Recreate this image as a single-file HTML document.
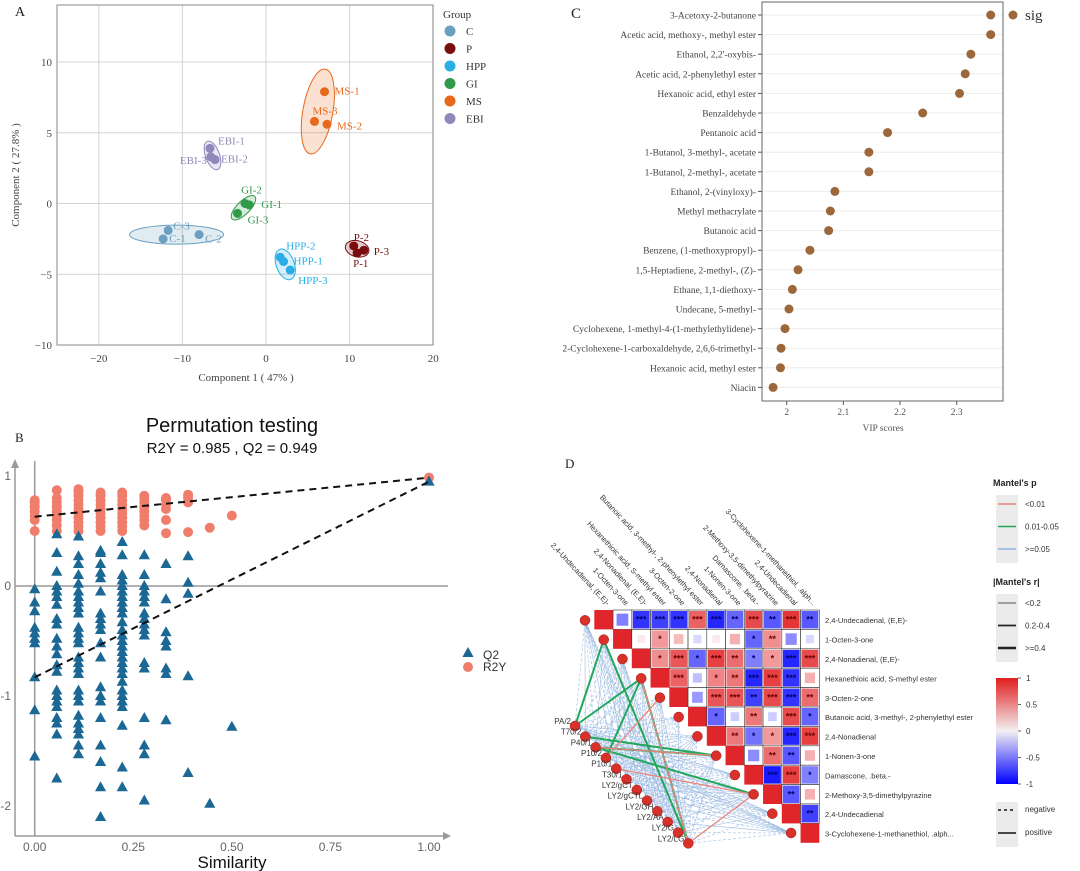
<!DOCTYPE html>
<html><head><meta charset="utf-8"><style>
html,body{margin:0;padding:0;background:#fff;}
svg{display:block;}
.serif{font-family:"Liberation Serif",serif;}
.sans{font-family:"Liberation Sans",sans-serif;}
</style></head><body>
<svg id="root" width="1080" height="871" viewBox="0 0 1080 871" xmlns="http://www.w3.org/2000/svg">
<g id="pA"></g>
<g id="pB"></g>
<g id="pC"></g>
<g id="pD"></g>
</svg>
<script>
// ---------- Panel A data ----------
const aGroups = ['C','P','HPP','GI','MS','EBI'];
const aColors = ['#6a9fc0','#7a0e0e','#2aaee4','#2f9a4a','#e8681a','#9088b9'];
const aLabels = ['C-1','C-3','C-2','P-2','P-3','P-1','HPP-2','HPP-1','HPP-3','GI-2','GI-1','GI-3','MS-1','MS-3','MS-2','EBI-1','EBI-2','EBI-3'];
const aGroupIdx = [0,0,0,1,1,1,2,2,2,3,3,3,4,4,4,5,5,5];
const aX = [-12.3,-11.7,-8,10.5,11.7,10.9,1.7,2.1,2.9,-2.5,-2,-3.4,7,5.8,7.3,-6.7,-6.1,-6.6];
const aY = [-2.5,-1.9,-2.2,-3,-3.3,-3.5,-3.8,-4.1,-4.7,0,-0.1,-0.7,7.9,5.8,5.6,3.9,3.1,3.3];
const ellCx = [-10.7,10.9,2.3,-2.7,6.2,-6.4];
const ellCy = [-2.2,-3.2,-4.3,-0.3,6.5,3.4];
const ellRx = [47,12,9,16,15,7];
const ellRy = [9.5,8,16,6.5,43,15];
const ellRot = [0,15,-20,-45,10,-20];
const aXTicks = [-20,-10,0,10,20];
const aYTicks = [-10,-5,0,5,10];
// ---------- Panel B data ----------
const bSim = [0,0.056,0.111,0.167,0.222,0.278,0.333,0.389,0.444,0.5,1.0];
const bQ2 = [
 [-0.03,-0.15,-0.23,-0.38,-0.43,-0.48,-0.52,-0.83,-1.13,-1.55],
 [0.47,0.3,0.13,0.0,-0.05,-0.1,-0.17,-0.3,-0.35,-0.48,-0.55,-0.62,-0.72,-0.78,-0.95,-1.0,-1.05,-1.1,-1.2,-1.25,-1.35,-1.75],
 [0.45,0.27,0.2,0.1,0.02,-0.05,-0.1,-0.15,-0.2,-0.25,-0.38,-0.43,-0.48,-0.52,-0.65,-0.7,-0.75,-0.8,-0.95,-1.0,-1.05,-1.18,-1.25,-1.3,-1.35,-1.45,-1.53],
 [0.32,0.3,0.2,0.12,0.07,-0.05,-0.25,-0.3,-0.35,-0.4,-0.52,-0.65,-0.92,-1.0,-1.05,-1.2,-1.45,-1.6,-1.83,-2.1],
 [0.4,0.28,0.1,0.05,0.0,-0.05,-0.1,-0.15,-0.2,-0.25,-0.33,-0.4,-0.45,-0.5,-0.55,-0.6,-0.65,-0.7,-0.75,-0.8,-0.87,-0.95,-1.0,-1.05,-1.1,-1.27,-1.65,-1.83],
 [0.28,0.1,0.0,-0.05,-0.1,-0.15,-0.25,-0.3,-0.35,-0.4,-0.45,-0.7,-0.75,-1.2,-1.45,-1.53,-1.95],
 [0.2,-0.12,-0.42,-0.5,-0.55,-0.75,-0.8,-1.22],
 [0.27,0.03,-0.07,-0.82,-1.7],
 [-1.98],
 [-1.28],
 [0.949]];
const bR2Y = [
 [0.5,0.6,0.64,0.68,0.72,0.76,0.78],
 [0.87,0.5,0.55,0.6,0.64,0.68,0.72,0.76,0.8],
 [0.5,0.54,0.58,0.62,0.66,0.7,0.74,0.78,0.82,0.86,0.88],
 [0.5,0.54,0.58,0.62,0.66,0.7,0.74,0.78,0.82,0.85],
 [0.5,0.54,0.58,0.62,0.66,0.7,0.74,0.78,0.82,0.85],
 [0.55,0.6,0.64,0.68,0.72,0.76,0.8,0.82],
 [0.48,0.6,0.7,0.74,0.78,0.8],
 [0.49,0.76,0.8,0.83],
 [0.53],
 [0.64],
 [0.985]];
const bR2YLine = [0.63,0.985];
const bQ2Line = [-0.83,0.949];
const bXTicks = [0,0.25,0.5,0.75,1.0];
const bXTickLabels = ['0.00','0.25','0.50','0.75','1.00'];
const bYTicks = [1,0,-1,-2];
// ---------- Panel C data ----------
const cNames = ['3-Acetoxy-2-butanone','Acetic acid, methoxy-, methyl ester','Ethanol, 2,2\'-oxybis-','Acetic acid, 2-phenylethyl ester','Hexanoic acid, ethyl ester','Benzaldehyde','Pentanoic acid','1-Butanol, 3-methyl-, acetate','1-Butanol, 2-methyl-, acetate','Ethanol, 2-(vinyloxy)-','Methyl methacrylate','Butanoic acid','Benzene, (1-methoxypropyl)-','1,5-Heptadiene, 2-methyl-, (Z)-','Ethane, 1,1-diethoxy-','Undecane, 5-methyl-','Cyclohexene, 1-methyl-4-(1-methylethylidene)-','2-Cyclohexene-1-carboxaldehyde, 2,6,6-trimethyl-','Hexanoic acid, methyl ester','Niacin'];
const cVIP = [2.36,2.36,2.325,2.315,2.305,2.24,2.178,2.145,2.145,2.085,2.077,2.074,2.041,2.02,2.01,2.004,1.997,1.99,1.989,1.976];
const cTicks = [2,2.1,2.2,2.3];
// ---------- Panel D data ----------
const dVars = ['2,4-Undecadienal, (E,E)-','1-Octen-3-one','2,4-Nonadienal, (E,E)-','Hexanethioic acid, S-methyl ester','3-Octen-2-one','Butanoic acid, 3-methyl-, 2-phenylethyl ester','2,4-Nonadienal','1-Nonen-3-one','Damascone, .beta.-','2-Methoxy-3,5-dimethylpyrazine','2,4-Undecadienal','3-Cyclohexene-1-methanethiol, .alph...'];
const dR = [
 [-0.5,-0.8,-0.75,-0.8,0.7,-0.85,-0.6,0.8,-0.65,0.9,-0.65],
 [0.1,0.45,0.3,-0.15,0.1,0.35,-0.6,0.5,-0.45,-0.15],
 [0.5,0.75,-0.6,0.85,0.65,-0.5,0.45,-0.85,0.8],
 [0.7,-0.25,0.55,0.6,-0.85,0.85,-0.8,0.35],
 [-0.4,0.75,0.75,-0.75,0.8,-0.8,0.65],
 [-0.6,-0.2,0.6,-0.2,0.8,-0.6],
 [0.6,-0.55,0.45,-0.85,0.85],
 [-0.45,0.65,-0.65,0.35],
 [-0.9,0.85,-0.5],
 [-0.65,0.35],
 [-0.75]];
const dStars = [
 ['','***','***','***','***','***','**','***','**','***','**'],
 ['','*','','','','','*','**','',''],
 ['*','***','*','***','**','*','*','***','***'],
 ['***','','*','**','***','***','***',''],
 ['','***','***','**','***','***','**'],
 ['*','','**','','***','*'],
 ['**','*','*','***','***'],
 ['','**','**',''],
 ['***','***','*'],
 ['**',''],
 ['**']];
const dEnv = ['PA/2','T70/2','P40/1','P10/2','P10/1','T30/1','LY2/gCT','LY2/gCTL','LY2/GH','LY2/AA','LY2/G','LY2/LG'];
const dSign = ['-+-+--+-+-+-','+--+-+--+--+','-+-+--+--+-+','--+-+--+-+--','+-+--+-+--+-','-+--+-+--+-+','--+-+-+--+-+','+--+--+-+--+','-+-+--+--+--','--+-+--+-+-+','+-+--+-+--+-','-+--+--+-+--'];
const dSigEdges = [[0,1,1],[0,3,1],[11,1,1],[11,3,1],[2,7,1],[2,9,1],[3,3,1],[1,7,1],[11,9,0],[11,3,0],[4,9,0],[2,7,0],[3,4,0]];
const dPLevels = ['<0.01','0.01-0.05','>=0.05'];
const dPColors = ['#e8857f','#22a75a','#8fb2de'];
const dRLevels = ['<0.2','0.2-0.4','>=0.4'];
const dCbarTicks = [1,0.5,0,-0.5,-1];

const NS='http://www.w3.org/2000/svg';
function mk(parent,tag,attrs,text){const e=document.createElementNS(NS,tag);for(const k in attrs)e.setAttribute(k,attrs[k]);if(text!==undefined)e.textContent=text;parent.appendChild(e);return e;}

// ================= Panel A =================
(function(){
const g=document.getElementById('pA');
const L=57,R=433,T=5,B=345;
const sx=v=>266+v*8.36, sy=v=>203.5-v*14.15;
mk(g,'text',{x:15,y:16,class:'serif','font-size':14,fill:'#222'},'A');
for(const t of aXTicks){const l=mk(g,'line',{x1:sx(t),x2:sx(t),y1:T,y2:B,stroke:'#d4d4d4','stroke-width':1});
 const tx=mk(g,'text',{x:sx(t),y:B+17,'text-anchor':'middle',class:'serif','font-size':11,fill:'#444'},t<0?'\u2212'+(-t):String(t));}
for(const t of aYTicks){const l=mk(g,'line',{x1:L,x2:R,y1:sy(t),y2:sy(t),stroke:'#d4d4d4','stroke-width':1});
 const tx=mk(g,'text',{x:L-5,y:sy(t)+4,'text-anchor':'end',class:'serif','font-size':11,fill:'#444'},t<0?'\u2212'+(-t):String(t));}
const fr=mk(g,'rect',{x:L,y:T,width:R-L,height:B-T,fill:'none',stroke:'#888','stroke-width':1});
for(let i=0;i<aGroups.length;i++){const e=mk(g,'ellipse',{cx:sx(ellCx[i]),cy:sy(ellCy[i]),rx:ellRx[i],ry:ellRy[i],fill:aColors[i],'fill-opacity':0.2,stroke:aColors[i],'stroke-width':1,transform:`rotate(${ellRot[i]} ${sx(ellCx[i])} ${sy(ellCy[i])})`});
 }
for(let i=0;i<aX.length;i++){const c=mk(g,'circle',{cx:sx(aX[i]),cy:sy(aY[i]),r:4.5,fill:aColors[aGroupIdx[i]]});}
const off={'C-1':[6,3,'start'],'C-3':[5,-1,'start'],'C-2':[6,8,'start'],'P-2':[0,-5,'start'],'P-3':[10,5,'start'],'P-1':[-4,14,'start'],'HPP-2':[6,-8,'start'],'HPP-1':[10,3,'start'],'HPP-3':[8,14,'start'],'GI-2':[-4,-10,'start'],'GI-1':[12,3,'start'],'GI-3':[10,10,'start'],'MS-1':[10,3,'start'],'MS-3':[-2,-7,'start'],'MS-2':[10,5,'start'],'EBI-1':[8,-4,'start'],'EBI-2':[6,3,'start'],'EBI-3':[-4,7,'end']};
for(let i=0;i<aX.length;i++){const o=off[aLabels[i]];const t=mk(g,'text',{x:sx(aX[i])+o[0],y:sy(aY[i])+o[1],'text-anchor':o[2],class:'serif','font-size':11,fill:aColors[aGroupIdx[i]]},aLabels[i]);}
mk(g,'text',{x:246,y:381,'text-anchor':'middle',class:'serif','font-size':11,fill:'#444'},'Component 1 ( 47% )');
mk(g,'text',{x:0,y:0,'text-anchor':'middle',class:'serif','font-size':11,fill:'#444',transform:'translate(19,175) rotate(-90)'},'Component 2 ( 27.8% )');
mk(g,'text',{x:443,y:18,class:'serif','font-size':11,fill:'#333'},'Group');
for(let i=0;i<aGroups.length;i++){const y=31+i*17.5;const c=mk(g,'circle',{cx:450,cy:y,r:5.5,fill:aColors[i]});
 const t=mk(g,'text',{x:466,y:y+4,class:'serif','font-size':11,fill:'#333'},aGroups[i]);}
})();

// ================= Panel B =================
(function(){
const g=document.getElementById('pB');
const sx=v=>34.7+v*394.3, sy=v=>586-v*110;
mk(g,'text',{x:15,y:442,class:'serif','font-size':13,fill:'#222'},'B');
mk(g,'text',{x:232,y:432,'text-anchor':'middle',class:'sans','font-size':20,fill:'#111'},'Permutation testing');
mk(g,'text',{x:232,y:453,'text-anchor':'middle',class:'sans','font-size':15,fill:'#111'},'R2Y = 0.985 ,  Q2 = 0.949');
const ax=mk(g,'path',{d:'M15,836 L15,465 M448,836 L15,836',stroke:'#999','stroke-width':1.5,fill:'none'});
mk(g,'path',{d:'M11,468 L15,459 L19,468 Z M443,832 L451,836 L443,840 Z',fill:'#999'});
mk(g,'line',{x1:sx(0),x2:sx(0),y1:461,y2:836,stroke:'#999','stroke-width':1.5});
mk(g,'line',{x1:15,x2:448,y1:sy(0),y2:sy(0),stroke:'#999','stroke-width':1.5});
for(let i=0;i<bXTicks.length;i++){const t=mk(g,'text',{x:sx(bXTicks[i]),y:851,'text-anchor':'middle',class:'sans','font-size':12,fill:'#666'},bXTickLabels[i]);}
for(const v of bYTicks){const t=mk(g,'text',{x:11,y:sy(v)+4,'text-anchor':'end',class:'sans','font-size':12,fill:'#666'},String(v));}
mk(g,'text',{x:232,y:868,'text-anchor':'middle',class:'sans','font-size':17,fill:'#111'},'Similarity');
for(let i=0;i<bSim.length;i++){for(const v of bR2Y[i]){const c=mk(g,'circle',{cx:sx(bSim[i]),cy:sy(v),r:5,fill:'#f07d6b'});}}
for(let i=0;i<bSim.length;i++){for(const v of bQ2[i]){const x=sx(bSim[i]),y=sy(v);const p=mk(g,'path',{d:`M${x},${y-6} L${x+5.6},${y+4} L${x-5.6},${y+4} Z`,fill:'#1b6894'});}}
mk(g,'line',{x1:sx(0),y1:sy(bR2YLine[0]),x2:sx(1),y2:sy(bR2YLine[1]),stroke:'#111','stroke-width':2,'stroke-dasharray':'7,5'});
mk(g,'line',{x1:sx(0),y1:sy(bQ2Line[0]),x2:sx(1),y2:sy(bQ2Line[1]),stroke:'#111','stroke-width':2,'stroke-dasharray':'7,5'});
mk(g,'path',{d:'M468,647 L473.6,657 L462.4,657 Z',fill:'#1b6894'});
const t1=mk(g,'text',{x:483,y:659,class:'sans','font-size':12,fill:'#333'},'Q2');
mk(g,'circle',{cx:468,cy:667,r:5,fill:'#f07d6b'});
const t2=mk(g,'text',{x:483,y:671,class:'sans','font-size':12,fill:'#333'},'R2Y');
})();

// ================= Panel C =================
(function(){
const g=document.getElementById('pC');
const L=762,R=1003,T=2,B=401;
const sx=v=>786.7+(v-2)*566.7, sy=i=>15+i*19.6;
mk(g,'text',{x:571,y:18,class:'serif','font-size':15,fill:'#222'},'C');
for(let i=0;i<cNames.length;i++){const y=sy(i);
 mk(g,'line',{x1:L,x2:R,y1:y,y2:y,stroke:'#ececec','stroke-width':1});
 mk(g,'line',{x1:L-4,x2:L,y1:y,y2:y,stroke:'#555','stroke-width':1});
 const t=mk(g,'text',{x:L-6,y:y+3.5,'text-anchor':'end',class:'serif','font-size':9.5,fill:'#444'},cNames[i]);}
mk(g,'rect',{x:L,y:T,width:R-L,height:B-T,fill:'none',stroke:'#666','stroke-width':1});
for(const t of cTicks){mk(g,'line',{x1:sx(t),x2:sx(t),y1:B,y2:B+4,stroke:'#555'});const tx=mk(g,'text',{x:sx(t),y:B+14,'text-anchor':'middle',class:'serif','font-size':9.5,fill:'#555'},String(t));}
mk(g,'text',{x:883,y:431,'text-anchor':'middle',class:'serif','font-size':9.5,fill:'#555'},'VIP scores');
for(let i=0;i<cVIP.length;i++){const c=mk(g,'circle',{cx:sx(cVIP[i]),cy:sy(i),r:4.5,fill:'#9c673a'});}
mk(g,'circle',{cx:1013,cy:15,r:4.5,fill:'#9c673a'});
const t=mk(g,'text',{x:1025,y:20,class:'serif','font-size':15,fill:'#333'},'sig');
})();

// ================= Panel D =================
(function(){
const g=document.getElementById('pD');
mk(g,'text',{x:565,y:468,class:'serif','font-size':13,fill:'#222'},'D');
const X0=594.3,Y0=610,cw=18.75,ch=19.4,n=dVars.length;
const col=v=>{const a=Math.min(1,Math.abs(v));if(v>=0){return `rgb(${Math.round(255-a*30)},${Math.round(255-a*225)},${Math.round(255-a*222)})`;}return `rgb(${Math.round(255-a*255)},${Math.round(255-a*255)},255)`;};
// nodes
const nodeR=i=>[540+(135+56.2*i)/3,450+(511+58*i)/3];
const nodeL=i=>[540+(105+30.9*i)/3,450+(828+32*i)/3];
const eg=mk(g,'g',{});
for(let i=0;i<dEnv.length;i++){for(let j=0;j<n;j++){const a=nodeL(i),b=nodeR(j);const neg=dSign[i][j]==='-';
 const l=mk(eg,'line',{x1:a[0],y1:a[1],x2:b[0],y2:b[1],stroke:dPColors[2],'stroke-width':0.7,'stroke-opacity':0.75});if(neg)l.setAttribute('stroke-dasharray','3,2');}}
for(const e of dSigEdges){const a=nodeL(e[0]),b=nodeR(e[1]);const l=mk(eg,'line',{x1:a[0],y1:a[1],x2:b[0],y2:b[1],stroke:dPColors[e[2]],'stroke-width':e[2]===1?2:1.3});}
// heatmap
for(let i=0;i<n;i++){for(let j=i;j<n;j++){const x=X0+j*cw,y=Y0+i*ch;
 if(j===i){const r=mk(g,'rect',{x:x,y:y,width:cw,height:ch,fill:'#e0262a'});continue;}
 const v=dR[i][j-i-1],s=dStars[i][j-i-1];
 mk(g,'rect',{x:x,y:y,width:cw,height:ch,fill:'#fff',stroke:'#333','stroke-width':0.6});
 const f=s?0.9:0.35+0.55*Math.abs(v);const w=cw*f,h=ch*f;
 const r=mk(g,'rect',{x:x+(cw-w)/2,y:y+(ch-h)/2,width:w,height:h,fill:col(v)});
 if(s){const t=mk(g,'text',{x:x+cw/2,y:y+ch/2+3,'text-anchor':'middle',class:'sans','font-size':9,fill:v>0?'#6a0000':'#00006a','font-weight':'bold'},s);}
}}
for(let i=0;i<n;i++){const t=mk(g,'text',{x:825,y:Y0+i*ch+ch/2+3.5,class:'sans','font-size':7.5,fill:'#333'},dVars[i]);
 const cx=X0+i*cw+cw/2;const c=mk(g,'text',{x:0,y:0,'text-anchor':'end',class:'sans','font-size':7.5,fill:'#333',transform:`translate(${cx+3},${Y0-4}) rotate(47)`},dVars[i]);}
for(let j=0;j<n;j++){const p=nodeR(j);const c=mk(g,'circle',{cx:p[0],cy:p[1],r:5,fill:'#d9302a',stroke:'#a01818','stroke-width':0.5});}
for(let i=0;i<dEnv.length;i++){const p=nodeL(i);const c=mk(g,'circle',{cx:p[0],cy:p[1],r:5,fill:'#d9302a',stroke:'#a01818','stroke-width':0.5});
 const t=mk(g,'text',{x:p[0]-4,y:p[1]-2,'text-anchor':'end',class:'sans','font-size':8,fill:'#333'},dEnv[i]);}
// legends
mk(g,'text',{x:993,y:486,class:'sans','font-size':9,'font-weight':'bold',fill:'#222'},"Mantel's p");
mk(g,'rect',{x:996,y:495,width:22,height:68,fill:'#ebebeb'});
for(let i=0;i<3;i++){const y=504+i*22.5;mk(g,'line',{x1:998,x2:1016,y1:y,y2:y,stroke:dPColors[i],'stroke-width':1.5});const t=mk(g,'text',{x:1025,y:y+3,class:'sans','font-size':8,fill:'#333'},dPLevels[i]);}
mk(g,'text',{x:993,y:585,class:'sans','font-size':9,'font-weight':'bold',fill:'#222'},"|Mantel's r|");
mk(g,'rect',{x:996,y:594,width:22,height:68,fill:'#ebebeb'});
for(let i=0;i<3;i++){const y=603+i*22.5;mk(g,'line',{x1:998,x2:1016,y1:y,y2:y,stroke:'#222','stroke-width':0.8+i*0.9});const t=mk(g,'text',{x:1025,y:y+3,class:'sans','font-size':8,fill:'#333'},dRLevels[i]);}
const defs=mk(g,'defs',{});const lg=mk(defs,'linearGradient',{id:'cbar',x1:0,y1:0,x2:0,y2:1});
mk(lg,'stop',{offset:'0%','stop-color':'#e01e1e'});mk(lg,'stop',{offset:'50%','stop-color':'#f4f0f2'});mk(lg,'stop',{offset:'100%','stop-color':'#0000ff'});
mk(g,'rect',{x:996,y:678,width:22,height:106,fill:'url(#cbar)'});
for(const t of dCbarTicks){const y=678+(1-t)/2*106;mk(g,'line',{x1:1018,x2:1021,y1:y,y2:y,stroke:'#666'});const tx=mk(g,'text',{x:1026,y:y+3,class:'sans','font-size':8,fill:'#333'},String(t));}
mk(g,'rect',{x:996,y:802,width:22,height:45,fill:'#ebebeb'});
mk(g,'line',{x1:998,x2:1016,y1:810,y2:810,stroke:'#111','stroke-width':1.5,'stroke-dasharray':'3,3'});
mk(g,'line',{x1:998,x2:1016,y1:833,y2:833,stroke:'#111','stroke-width':1.5});
const n1=mk(g,'text',{x:1025,y:812,class:'sans','font-size':8,fill:'#333'},'negative');
const n2=mk(g,'text',{x:1025,y:835,class:'sans','font-size':8,fill:'#333'},'positive');
})();
</script>
</body></html>
